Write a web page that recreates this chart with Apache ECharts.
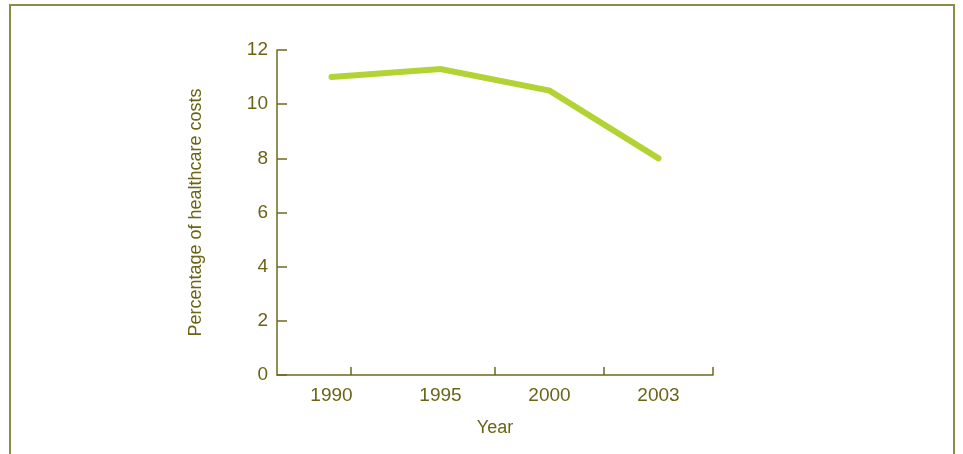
<!DOCTYPE html>
<html>
<head>
<meta charset="utf-8">
<style>
  html, body { margin: 0; padding: 0; background: #ffffff; }
  #chart { width: 963px; height: 454px; position: absolute; left: 0; top: 0; }
  #frame {
    position: absolute; left: 9px; top: 4px; width: 946px; height: 470px;
    border: 2px solid #8c8d45; box-sizing: border-box; pointer-events: none;
  }
</style>
<script src="https://cdn.jsdelivr.net/npm/echarts@6/dist/echarts.min.js"></script>
</head>
<body>
<div id="chart"></div>
<div id="frame"></div>
<script>
// Share of healthcare costs by year
const years = ['1990', '1995', '2000', '2003'];
const percentages = [11.0, 11.3, 10.5, 8.0];
const yTicks = [0, 2, 4, 6, 8, 10, 12];

const TEXT = '#6b6416';
const AXIS = '#6e6a1e';
const FONT = '"Liberation Sans Narrow", "Arial Narrow", "Liberation Sans", Arial, sans-serif';

const chart = echarts.init(document.getElementById('chart'), null, { renderer: 'canvas' });

chart.setOption({
  animation: false,
  backgroundColor: 'transparent',
  grid: { left: 277, right: 250, top: 50, bottom: 79, containLabel: false },
  xAxis: [
    {
      type: 'category',
      data: years,
      boundaryGap: true,
      name: 'Year',
      nameLocation: 'middle',
      nameGap: 44,
      nameTextStyle: { color: TEXT, fontSize: 18, fontFamily: FONT },
      axisLine: { show: true, lineStyle: { color: AXIS, width: 1.5 } },
      axisTick: { show: false },
      axisLabel: { color: TEXT, fontSize: 19, fontFamily: '"Liberation Sans", Arial, sans-serif', margin: 11 },
      splitLine: { show: false }
    },
    {
      // tick marks along the baseline
      type: 'value',
      position: 'bottom',
      min: 0,
      max: 4,
      axisLine: { show: false },
      axisLabel: { show: false },
      splitLine: { show: false },
      axisTick: {
        show: true,
        inside: true,
        length: 8,
        customValues: [0.68, 2, 3, 4],
        lineStyle: { color: AXIS, width: 1.5 }
      }
    }
  ],
  yAxis: {
    type: 'value',
    min: yTicks[0],
    max: yTicks[yTicks.length - 1],
    interval: 2,
    name: 'Percentage of healthcare costs',
    nameLocation: 'middle',
    nameGap: 72,
    nameRotate: 90,
    nameTextStyle: { color: TEXT, fontSize: 18, fontFamily: FONT },
    axisLine: { show: true, lineStyle: { color: AXIS, width: 1.5 } },
    axisTick: { show: true, inside: true, length: 10, lineStyle: { color: AXIS, width: 1.5 } },
    axisLabel: { color: TEXT, fontSize: 19, fontFamily: '"Liberation Sans", Arial, sans-serif', margin: 9 },
    splitLine: { show: false }
  },
  series: [{
    type: 'line',
    data: percentages,
    xAxisIndex: 0,
    symbol: 'none',
    smooth: false,
    lineStyle: { color: '#b3d334', width: 6, cap: 'round', join: 'miter' }
  }]
});
</script>
</body>
</html>
